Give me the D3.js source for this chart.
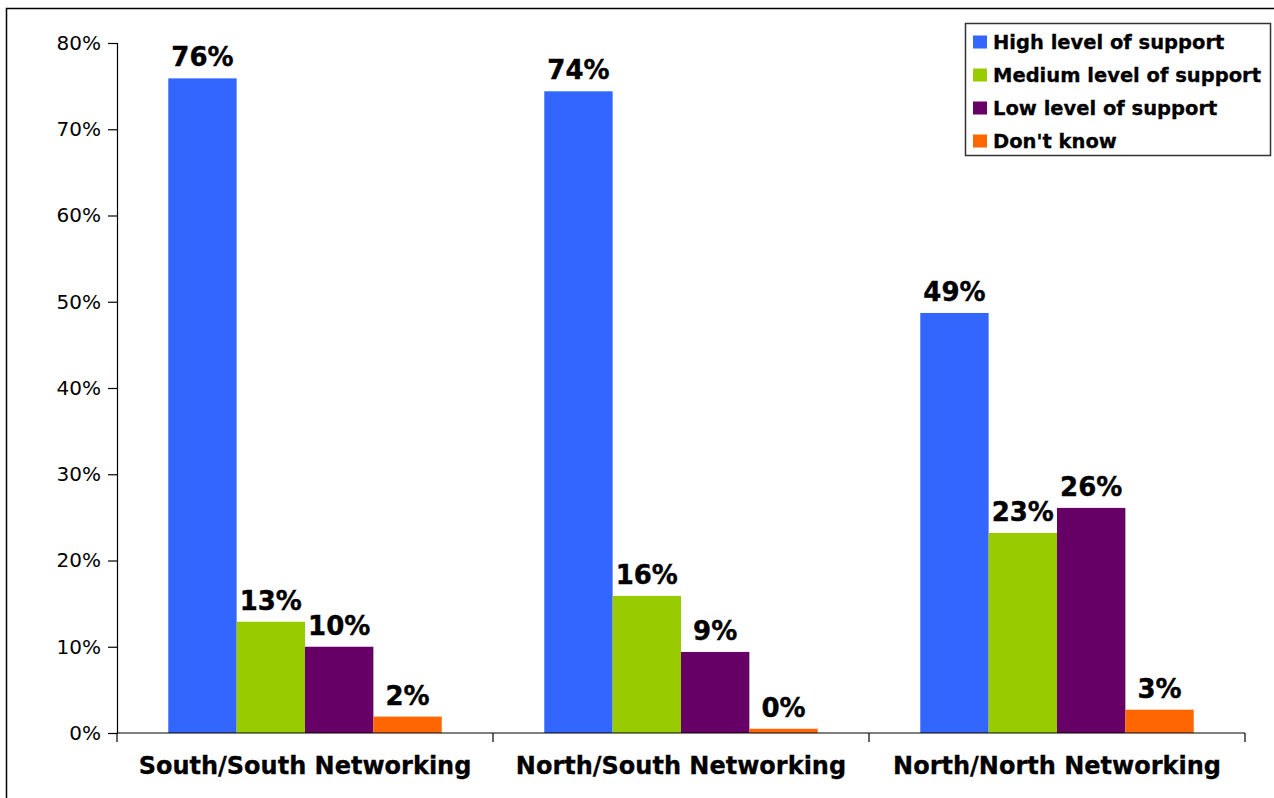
<!DOCTYPE html>
<html>
<head>
<meta charset="utf-8">
<script src="https://cdn.jsdelivr.net/npm/d3@7"></script>
<style>
  html, body { margin: 0; padding: 0; background: #fff; }
  svg { display: block; }
</style>
</head>
<body>
<svg id="chart" width="1274" height="798"></svg>
<script>
// Support level by networking type (percent of respondents)
const categories = ["South/South Networking", "North/South Networking", "North/North Networking"];
const seriesNames = ["High level of support", "Medium level of support", "Low level of support", "Don't know"];
const highSupport = [75.9, 74.4, 48.7];
const mediumSupport = [12.9, 15.9, 23.2];
const lowSupport = [10.0, 9.4, 26.1];
const dontKnow = [1.9, 0.49, 2.7];
const yTicks = [0, 10, 20, 30, 40, 50, 60, 70, 80];
const colors = ["#3366FF", "#99CC00", "#660066", "#FF6600"];

const seriesValues = [highSupport, mediumSupport, lowSupport, dontKnow];

const svg = d3.select("#chart");

// outer frame
svg.append("rect")
  .attr("x", 6.5).attr("y", 8.5)
  .attr("width", 1400).attr("height", 900)
  .attr("fill", "none").attr("stroke", "#000").attr("stroke-width", 1.5);

const plot = { left: 117, right: 1245, top: 43, bottom: 733 };

const x0 = d3.scaleBand().domain(categories).range([plot.left, plot.right]).padding(0);
const x1 = d3.scaleBand().domain(seriesNames).range([0, x0.bandwidth()])
  .paddingInner(0).paddingOuter(0.75);
const y = d3.scaleLinear().domain([0, 80]).range([plot.bottom, plot.top]);

// bars with value labels
const groups = svg.append("g").selectAll("g")
  .data(categories)
  .join("g")
  .attr("transform", d => `translate(${x0(d)},0)`);

const barData = ci => seriesNames.map((s, si) => ({ s, si, v: seriesValues[si][ci] }));

groups.each(function (c, ci) {
  const g = d3.select(this);
  const items = barData(ci);
  g.selectAll("rect")
    .data(items)
    .join("rect")
    .attr("x", d => x1(d.s))
    .attr("y", d => y(d.v))
    .attr("width", x1.bandwidth())
    .attr("height", d => y(0) - y(d.v))
    .attr("fill", d => colors[d.si]);
  g.selectAll("text")
    .data(items)
    .join("text")
    .attr("x", d => x1(d.s) + x1.bandwidth() / 2)
    .attr("y", d => y(d.v) - 12)
    .attr("text-anchor", "middle")
    .attr("font-family", "DejaVu Sans, Verdana, sans-serif")
    .attr("font-weight", "bold")
    .attr("font-size", 26)
    .attr("fill", "#000")
    .attr("stroke", "#000")
    .attr("stroke-width", 0.4)
    .text(d => d3.format(".0f")(d.v) + "%");
});

// y axis
const yAxis = d3.axisLeft(y)
  .tickValues(yTicks)
  .tickFormat(d => d + "%")
  .tickSize(9)
  .tickPadding(7);
const gy = svg.append("g")
  .attr("transform", `translate(${plot.left},0)`)
  .call(yAxis);
gy.select(".domain").attr("stroke", "#000").attr("stroke-width", 1.2);
gy.selectAll(".tick line").attr("stroke", "#000").attr("stroke-width", 1.2);
gy.selectAll(".tick text")
  .attr("font-family", "DejaVu Sans, Verdana, sans-serif")
  .attr("font-size", 20)
  .attr("fill", "#000");

// x axis: ticks on the category boundaries
const boundaries = categories.map(c => x0(c)).concat([plot.right]);
const gx = svg.append("g");
gx.append("line")
  .attr("x1", plot.left).attr("x2", plot.right)
  .attr("y1", plot.bottom).attr("y2", plot.bottom)
  .attr("stroke", "#000").attr("stroke-width", 1.2);
gx.selectAll("line.tk")
  .data(boundaries)
  .join("line")
  .attr("class", "tk")
  .attr("x1", d => d).attr("x2", d => d)
  .attr("y1", plot.bottom).attr("y2", plot.bottom + 9)
  .attr("stroke", "#000").attr("stroke-width", 1.2);
gx.selectAll("text")
  .data(categories)
  .join("text")
  .attr("x", d => x0(d) + x0.bandwidth() / 2)
  .attr("y", 774)
  .attr("text-anchor", "middle")
  .attr("font-family", "DejaVu Sans, Verdana, sans-serif")
  .attr("font-weight", "bold")
  .attr("font-size", 24)
  .attr("fill", "#000")
  .attr("stroke", "#000")
  .attr("stroke-width", 0.3)
  .text(d => d);

// legend
const legend = svg.append("g").attr("transform", "translate(965,23)");
legend.append("rect")
  .attr("x", 0.5).attr("y", 0.5)
  .attr("width", 305).attr("height", 132)
  .attr("fill", "#fff").attr("stroke", "#333").attr("stroke-width", 1.5);
const rows = legend.selectAll("g.row")
  .data(seriesNames)
  .join("g")
  .attr("class", "row")
  .attr("transform", (d, i) => `translate(0,${19 + i * 33})`);
rows.append("rect")
  .attr("x", 8).attr("y", -6.5)
  .attr("width", 14).attr("height", 13)
  .attr("fill", (d, i) => colors[i]);
rows.append("text")
  .attr("x", 28).attr("y", 7)
  .attr("font-family", "DejaVu Sans, Verdana, sans-serif")
  .attr("font-weight", "bold")
  .attr("font-size", 19.5)
  .attr("fill", "#000")
  .attr("stroke", "#000")
  .attr("stroke-width", 0.3)
  .text(d => d);
</script>
</body>
</html>
